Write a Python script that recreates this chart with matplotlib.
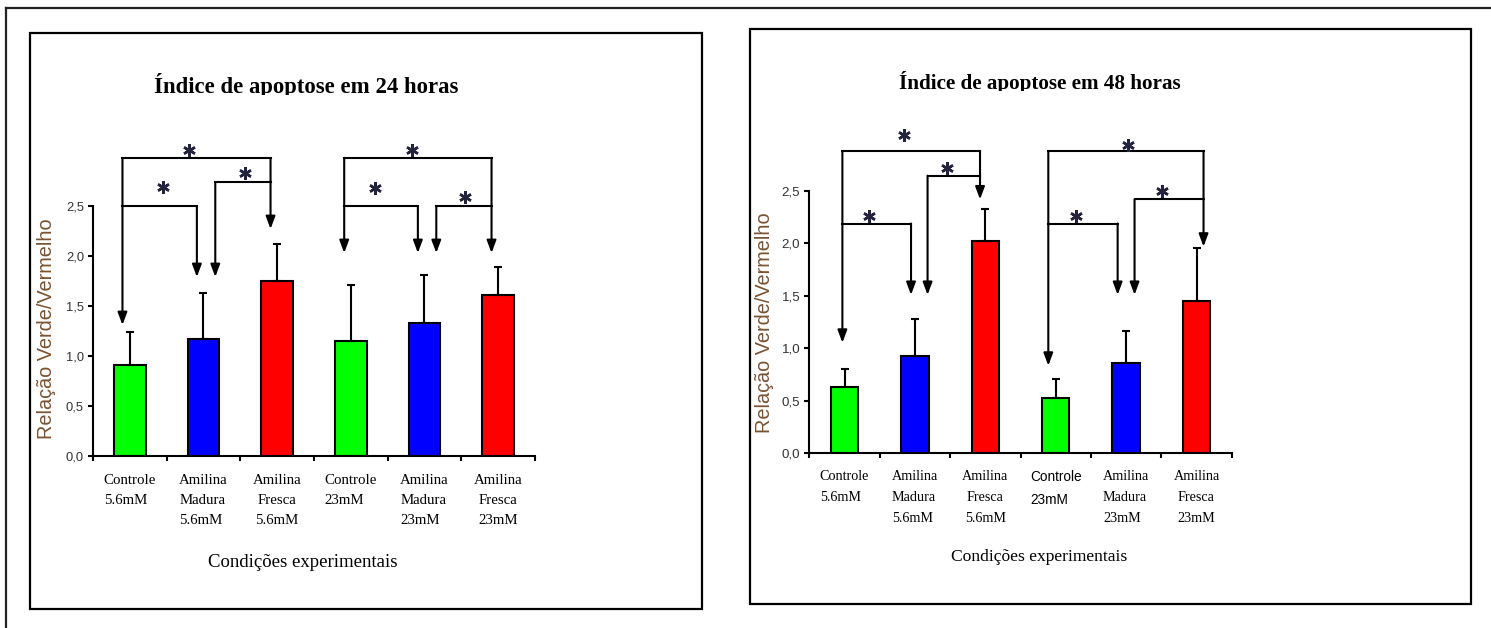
import matplotlib
matplotlib.use("Agg")
import matplotlib.pyplot as plt
from matplotlib.patches import Rectangle
from matplotlib.lines import Line2D
from matplotlib.transforms import Bbox, TransformedBbox

# ---------------- data ----------------
categories = ["Controle\n5.6mM", "Amilina\nMadura\n5.6mM", "Amilina\nFresca\n5.6mM",
              "Controle\n23mM", "Amilina\nMadura\n23mM", "Amilina\nFresca\n23mM"]
label_align = ["left", "left", "center", "left", "left", "center"]
bar_colors = ["#00ff00", "#0000ff", "#ff0000", "#00ff00", "#0000ff", "#ff0000"]

mean_24h = [0.91, 1.17, 1.75, 1.15, 1.33, 1.61]
sd_24h = [0.33, 0.46, 0.37, 0.56, 0.48, 0.28]

mean_48h = [0.63, 0.93, 2.02, 0.53, 0.86, 1.45]
sd_48h = [0.17, 0.35, 0.31, 0.18, 0.31, 0.51]

yticks = [0.0, 0.5, 1.0, 1.5, 2.0, 2.5]
ytick_labels = ["0,0", "0,5", "1,0", "1,5", "2,0", "2,5"]

title_24h = "Índice de apoptose em 24 horas"
title_48h = "Índice de apoptose em 48 horas"
xlabel = "Condições experimentais"
ylabel = "Relação Verde/Vermelho"

# significance brackets: (x_left, x_right, y_bar, tip_left, tip_right, star_x, star_y)
brackets_24h = [
    (-0.10, 1.91, 2.98, 1.31, 2.27, 0.80, 3.06),
    (-0.10, 0.91, 2.50, None, 1.79, 0.45, 2.69),
    (1.16, 1.91, 2.74, 1.79, None, 1.56, 2.83),
    (2.91, 4.91, 2.98, 2.03, 2.03, 3.83, 3.06),
    (2.91, 3.91, 2.50, None, 2.03, 3.33, 2.68),
    (4.16, 4.91, 2.50, 2.03, None, 4.55, 2.59),
]
brackets_48h = [
    (-0.03, 1.925, 2.88, 1.054, 2.42, 0.85, 3.03),
    (-0.03, 0.945, 2.19, None, 1.51, 0.35, 2.26),
    (1.18, 1.925, 2.646, 1.51, None, 1.45, 2.72),
    (2.895, 5.10, 2.88, 0.835, 1.97, 4.03, 2.94),
    (2.895, 3.88, 2.19, None, 1.51, 3.29, 2.26),
    (4.12, 5.10, 2.42, 1.51, None, 4.51, 2.50),
]

SERIF = ["Liberation Serif", "DejaVu Serif"]
SANS = ["Liberation Sans", "DejaVu Sans"]

W, H = 1491, 628
fig = plt.figure(figsize=(W / 100, H / 100), dpi=100)


def fx(px):
    return px / W


def fy(py):
    return 1 - py / H


def frame_rect(x0, y0, x1, y1, lw=1.6):
    fig.add_artist(Rectangle((fx(x0), fy(y1)), fx(x1) - fx(x0), fy(y0) - fy(y1),
                             transform=fig.transFigure, fill=False,
                             edgecolor="black", lw=lw))


# outer frame (top + left only)
fig.add_artist(Line2D([fx(6), fx(6)], [fy(8), 0], transform=fig.transFigure,
                      color="#222222", lw=1.6))
fig.add_artist(Line2D([fx(6), 1], [fy(8), fy(8)], transform=fig.transFigure,
                      color="#222222", lw=1.6))
frame_rect(30, 33, 702, 609)
frame_rect(750, 29, 1471, 604)


def draw_panel(ax, means, sds, brackets, bar_w, tick_fs, lab_fs, pad,
               linesp, sans_idx=None):
    x = list(range(len(categories)))
    err = [[0] * len(sds), sds]
    ax.bar(x, means, width=bar_w, color=bar_colors, edgecolor="black",
           linewidth=1.5, yerr=err, capsize=3,
           error_kw=dict(ecolor="black", elinewidth=1.5, capthick=1.5),
           zorder=2)
    ax.set_xlim(-0.5, 5.5)
    ax.set_ylim(0, 2.5)
    for s in ["top", "right"]:
        ax.spines[s].set_visible(False)
    for s in ["left", "bottom"]:
        ax.spines[s].set_linewidth(1.5)
        ax.spines[s].set_color("black")
    ax.set_yticks(yticks)
    ax.set_yticklabels(ytick_labels, fontfamily=SANS, fontsize=tick_fs,
                       color="#333333")
    ax.tick_params(axis="y", direction="out", length=3.5, width=1.5, pad=3)
    # category boundaries as major ticks, category labels on minor ticks
    ax.set_xticks([i - 0.5 for i in range(len(categories) + 1)])
    ax.set_xticklabels([])
    ax.tick_params(axis="x", which="major", direction="out", length=3.5,
                   width=1.5)
    ax.set_xticks(x, minor=True)
    ax.set_xticklabels(categories, minor=True, fontfamily=SERIF,
                       fontsize=lab_fs, linespacing=linesp)
    ax.tick_params(axis="x", which="minor", length=0, pad=pad)
    for i, t in enumerate(ax.get_xticklabels(minor=True)):
        t.set_multialignment(label_align[i])
        if i == sans_idx:
            t.set_fontfamily(SANS)
            t.set_fontsize(lab_fs - 0.4)

    for (xl, xr, yb, tl, tr, sx, sy) in brackets:
        ax.plot([xl, xr], [yb, yb], color="black", lw=1.5, clip_on=False,
                solid_capstyle="projecting")
        for xx, tip in ((xl, tl), (xr, tr)):
            if tip is None:
                continue
            ax.annotate("", xy=(xx, tip), xytext=(xx, yb),
                        arrowprops=dict(arrowstyle="-|>,head_length=0.75,head_width=0.28",
                                        color="black", lw=1.5,
                                        shrinkA=0, shrinkB=0),
                        annotation_clip=False)
        ax.plot([sx], [sy], marker=(6, 2, 0), ms=9, mew=1.8,
                color="#23233d", ls="none", clip_on=False)


# ---------------- left panel (24 h) ----------------
ax1 = fig.add_axes([fx(93), fy(456), fx(535) - fx(93), fy(206) - fy(456)])
draw_panel(ax1, mean_24h, sd_24h, brackets_24h, 0.43, 9.3, 10.7, 13, 1.7)
ax1.set_xlabel(xlabel, fontfamily=SERIF, fontsize=13.5, va="center")
ax1.xaxis.set_label_coords(0.475, -0.427)
ax1.set_ylabel(ylabel, fontfamily=SANS, fontsize=14.3, color="#7a5230",
               va="center")
ax1.yaxis.set_label_coords(-0.105, 0.508)

# ---------------- right panel (48 h) ----------------
ax2 = fig.add_axes([fx(809.3), fy(453.3), fx(1231.7) - fx(809.3),
                    fy(191) - fy(453.3)])
draw_panel(ax2, mean_48h, sd_48h, brackets_48h, 0.39, 9.6, 10.2, 12, 1.8,
           sans_idx=3)
ax2.set_xlabel(xlabel, fontfamily=SERIF, fontsize=12.6, va="center")
ax2.xaxis.set_label_coords(0.544, -0.394)
ax2.set_ylabel(ylabel, fontfamily=SANS, fontsize=14.3, color="#7a5230",
               va="center")
ax2.yaxis.set_label_coords(-0.107, 0.497)

# ---------------- titles (bottom clipped as in the reference) -------------
t1 = fig.text(fx(306), fy(93), title_24h, ha="center", va="baseline",
              fontfamily=SERIF, fontweight="bold", fontsize=16.4)
t1.set_clip_box(TransformedBbox(Bbox([[0, fy(94.5)], [0.5, 1]]), fig.transFigure))
t1.set_clip_on(True)
t2 = fig.text(fx(1040), fy(89.5), title_48h, ha="center", va="baseline",
              fontfamily=SERIF, fontweight="bold", fontsize=15.2)
t2.set_clip_box(TransformedBbox(Bbox([[0.5, fy(91)], [1, 1]]), fig.transFigure))
t2.set_clip_on(True)

fig.savefig("out.png", dpi=100)
